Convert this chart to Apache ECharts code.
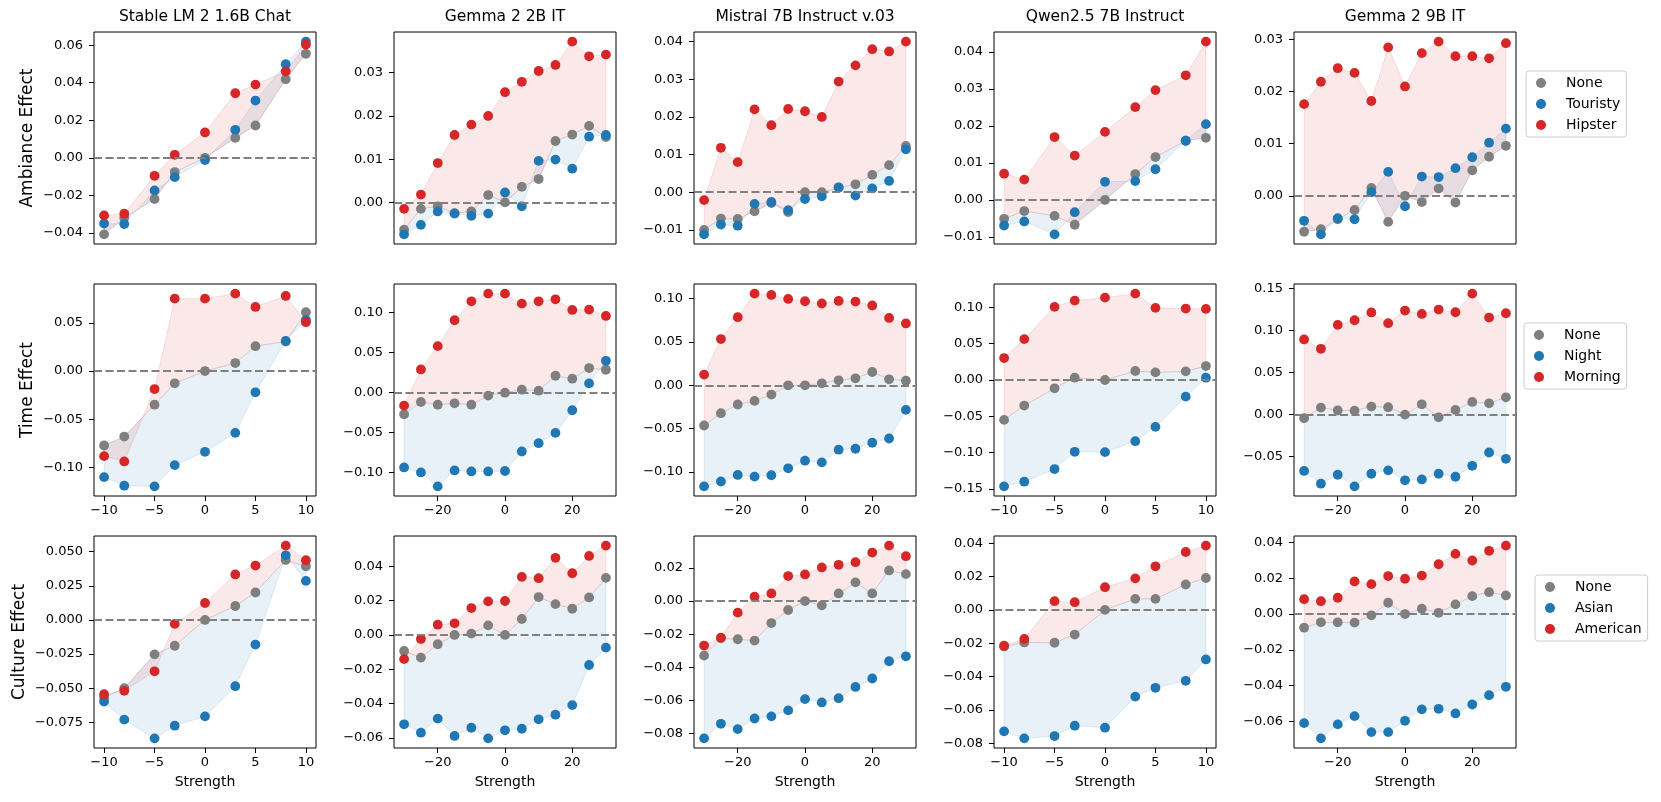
<!DOCTYPE html>
<html><head><meta charset="utf-8">
<script src="https://cdn.jsdelivr.net/npm/echarts@6/dist/echarts.min.js"></script>
<style>html,body{margin:0;padding:0;background:#fff}#c{width:1661px;height:802px}</style>
</head><body><div id="c"></div>
<script>
// ---------- categories / labels ----------
const models = ['Stable LM 2 1.6B Chat','Gemma 2 2B IT','Mistral 7B Instruct v.03','Qwen2.5 7B Instruct','Gemma 2 9B IT'];
const effects = ['Ambiance Effect','Time Effect','Culture Effect'];
const ambianceNames = ['None','Touristy','Hipster'];
const timeNames = ['None','Night','Morning'];
const cultureNames = ['None','Asian','American'];
const strengthSmall = [-10,-8,-5,-3,0,3,5,8,10];
const strengthLarge = [-30,-25,-20,-15,-10,-5,0,5,10,15,20,25,30];
const xTicksSmall = ['−10','−5','0','5','10'];
const xTicksLarge = ['−20','0','20'];
const yTicksAmbiance = [
  ['−0.04','−0.02','0.00','0.02','0.04','0.06'],
  ['0.00','0.01','0.02','0.03'],
  ['−0.01','0.00','0.01','0.02','0.03','0.04'],
  ['−0.01','0.00','0.01','0.02','0.03','0.04'],
  ['0.00','0.01','0.02','0.03']];
const yTicksTime = [
  ['−0.10','−0.05','0.00','0.05'],
  ['−0.10','−0.05','0.00','0.05','0.10'],
  ['−0.10','−0.05','0.00','0.05','0.10'],
  ['−0.15','−0.10','−0.05','0.00','0.05','0.10'],
  ['−0.05','0.00','0.05','0.10','0.15']];
const yTicksCulture = [
  ['−0.075','−0.050','−0.025','0.000','0.025','0.050'],
  ['−0.06','−0.04','−0.02','0.00','0.02','0.04'],
  ['−0.08','−0.06','−0.04','−0.02','0.00','0.02'],
  ['−0.08','−0.06','−0.04','−0.02','0.00','0.02','0.04'],
  ['−0.06','−0.04','−0.02','0.00','0.02','0.04']];

// ---------- Ambiance ----------
const ambStableNone     = [-0.0408,-0.0320,-0.0220,-0.0076,0.0000,0.0106,0.0172,0.0419,0.0554];
const ambStableTouristy = [-0.0350,-0.0353,-0.0174,-0.0103,-0.0012,0.0149,0.0305,0.0499,0.0619];
const ambStableHipster  = [-0.0307,-0.0298,-0.0096,0.0016,0.0135,0.0344,0.0390,0.0461,0.0603];
const ambGemma2None     = [-0.0063,-0.0015,-0.0009,-0.0025,-0.0021,0.0017,0.0000,0.0036,0.0054,0.0142,0.0157,0.0177,0.0151];
const ambGemma2Touristy = [-0.0074,-0.0052,-0.0021,-0.0026,-0.0031,-0.0026,0.0023,-0.0009,0.0096,0.0099,0.0078,0.0152,0.0156];
const ambGemma2Hipster  = [-0.0015,0.0018,0.0091,0.0156,0.0180,0.0200,0.0255,0.0279,0.0304,0.0318,0.0372,0.0338,0.0342];
const ambMistralNone     = [-0.0100,-0.0070,-0.0071,-0.0051,-0.0029,-0.0053,0.0000,0.0000,0.0012,0.0021,0.0046,0.0072,0.0123];
const ambMistralTouristy = [-0.0112,-0.0086,-0.0089,-0.0031,-0.0026,-0.0048,-0.0018,-0.0011,0.0013,-0.0009,0.0010,0.0030,0.0114];
const ambMistralHipster  = [-0.0021,0.0118,0.0080,0.0220,0.0178,0.0221,0.0215,0.0200,0.0294,0.0337,0.0380,0.0374,0.0400];
const ambQwenNone     = [-0.0051,-0.0030,-0.0043,-0.0067,0.0000,0.0070,0.0116,0.0160,0.0168];
const ambQwenTouristy = [-0.0069,-0.0058,-0.0093,-0.0033,0.0049,0.0051,0.0083,0.0160,0.0205];
const ambQwenHipster  = [0.0071,0.0055,0.0170,0.0120,0.0184,0.0251,0.0297,0.0337,0.0428];
const ambGemma9None     = [-0.0069,-0.0064,-0.0045,-0.0027,0.0015,-0.0050,0.0000,-0.0012,0.0014,-0.0013,0.0049,0.0075,0.0096];
const ambGemma9Touristy = [-0.0048,-0.0074,-0.0043,-0.0045,0.0007,0.0046,-0.0020,0.0037,0.0036,0.0053,0.0074,0.0102,0.0129];
const ambGemma9Hipster  = [0.0176,0.0219,0.0245,0.0236,0.0182,0.0285,0.0210,0.0274,0.0296,0.0268,0.0268,0.0264,0.0293];

// ---------- Time ----------
const timeStableNone    = [-0.0771,-0.0678,-0.0348,-0.0127,0.0000,0.0083,0.0258,0.0306,0.0609];
const timeStableNight   = [-0.1098,-0.1187,-0.1194,-0.0974,-0.0836,-0.0640,-0.0220,0.0313,0.0530];
const timeStableMorning = [-0.0881,-0.0936,-0.0186,0.0750,0.0750,0.0802,0.0664,0.0778,0.0506];
const timeGemma2None    = [-0.0270,-0.0116,-0.0150,-0.0133,-0.0150,-0.0037,0.0000,0.0037,0.0025,0.0212,0.0175,0.0308,0.0287];
const timeGemma2Night   = [-0.0935,-0.0998,-0.1172,-0.0973,-0.0985,-0.0985,-0.0980,-0.0736,-0.0632,-0.0503,-0.0220,0.0116,0.0399];
const timeGemma2Morning = [-0.0162,0.0291,0.0582,0.0906,0.1143,0.1239,0.1239,0.1114,0.1143,0.1168,0.1035,0.1039,0.0960];
const timeMistralNone    = [-0.0464,-0.0322,-0.0222,-0.0180,-0.0107,0.0000,0.0000,0.0023,0.0057,0.0080,0.0153,0.0069,0.0053];
const timeMistralNight   = [-0.1166,-0.1110,-0.1034,-0.1054,-0.1038,-0.0958,-0.0870,-0.0889,-0.0743,-0.0732,-0.0663,-0.0614,-0.0284];
const timeMistralMorning = [0.0123,0.0533,0.0785,0.1057,0.1042,0.0996,0.0969,0.0943,0.0973,0.0966,0.0920,0.0777,0.0713];
const timeQwenNone    = [-0.0549,-0.0352,-0.0114,0.0032,0.0000,0.0124,0.0105,0.0119,0.0192];
const timeQwenNight   = [-0.1464,-0.1400,-0.1226,-0.0988,-0.0993,-0.0842,-0.0645,-0.0229,0.0032];
const timeQwenMorning = [0.0302,0.0563,0.1007,0.1093,0.1134,0.1189,0.0993,0.0984,0.0979];
const timeGemma9None    = [-0.0043,0.0083,0.0051,0.0047,0.0095,0.0087,0.0000,0.0122,-0.0032,0.0055,0.0150,0.0134,0.0205];
const timeGemma9Night   = [-0.0669,-0.0820,-0.0714,-0.0852,-0.0702,-0.0662,-0.0780,-0.0770,-0.0702,-0.0738,-0.0608,-0.0450,-0.0525];
const timeGemma9Morning = [0.0892,0.0781,0.1065,0.1120,0.1213,0.1085,0.1235,0.1195,0.1247,0.1215,0.1436,0.1152,0.1203];

// ---------- Culture ----------
const culStableNone     = [-0.0570,-0.0500,-0.0252,-0.0189,0.0000,0.0102,0.0201,0.0439,0.0393];
const culStableAsian    = [-0.0597,-0.0730,-0.0867,-0.0774,-0.0706,-0.0485,-0.0180,0.0473,0.0286];
const culStableAmerican = [-0.0544,-0.0519,-0.0376,-0.0029,0.0124,0.0333,0.0398,0.0544,0.0437];
const culGemma2None     = [-0.0093,-0.0132,-0.0054,0.0000,0.0008,0.0056,0.0000,0.0093,0.0221,0.0180,0.0153,0.0219,0.0333];
const culGemma2Asian    = [-0.0521,-0.0570,-0.0488,-0.0589,-0.0541,-0.0603,-0.0556,-0.0547,-0.0492,-0.0465,-0.0409,-0.0175,-0.0074];
const culGemma2American = [-0.0141,-0.0023,0.0060,0.0068,0.0157,0.0196,0.0198,0.0339,0.0331,0.0450,0.0360,0.0461,0.0521];
const culMistralNone     = [-0.0330,-0.0225,-0.0231,-0.0239,-0.0133,-0.0054,0.0000,-0.0026,0.0046,0.0113,0.0046,0.0185,0.0163];
const culMistralAsian    = [-0.0830,-0.0742,-0.0774,-0.0710,-0.0697,-0.0661,-0.0593,-0.0613,-0.0587,-0.0519,-0.0468,-0.0364,-0.0334];
const culMistralAmerican = [-0.0269,-0.0221,-0.0070,0.0026,0.0046,0.0151,0.0161,0.0203,0.0219,0.0235,0.0293,0.0335,0.0271];
const culQwenNone     = [-0.0219,-0.0195,-0.0197,-0.0148,0.0000,0.0066,0.0066,0.0152,0.0191];
const culQwenAsian    = [-0.0728,-0.0770,-0.0756,-0.0694,-0.0706,-0.0520,-0.0467,-0.0425,-0.0297];
const culQwenAmerican = [-0.0215,-0.0174,0.0052,0.0046,0.0136,0.0189,0.0261,0.0347,0.0385];
const culGemma9None     = [-0.0076,-0.0046,-0.0046,-0.0048,-0.0007,0.0063,0.0000,0.0030,0.0007,0.0054,0.0100,0.0122,0.0104];
const culGemma9Asian    = [-0.0609,-0.0694,-0.0616,-0.0570,-0.0659,-0.0659,-0.0596,-0.0532,-0.0529,-0.0555,-0.0505,-0.0453,-0.0406];
const culGemma9American = [0.0083,0.0072,0.0091,0.0182,0.0167,0.0212,0.0197,0.0215,0.0278,0.0336,0.0299,0.0353,0.0382];

// ---------- assemble ----------
const rowNames = [ambianceNames, timeNames, cultureNames];
const rowTicks = [yTicksAmbiance, yTicksTime, yTicksCulture];
const colX = [strengthSmall, strengthLarge, strengthLarge, strengthSmall, strengthLarge];
const colXTicks = [xTicksSmall, xTicksLarge, xTicksLarge, xTicksSmall, xTicksLarge];
const panelData = [
  [[ambStableNone,ambStableTouristy,ambStableHipster],[ambGemma2None,ambGemma2Touristy,ambGemma2Hipster],[ambMistralNone,ambMistralTouristy,ambMistralHipster],[ambQwenNone,ambQwenTouristy,ambQwenHipster],[ambGemma9None,ambGemma9Touristy,ambGemma9Hipster]],
  [[timeStableNone,timeStableNight,timeStableMorning],[timeGemma2None,timeGemma2Night,timeGemma2Morning],[timeMistralNone,timeMistralNight,timeMistralMorning],[timeQwenNone,timeQwenNight,timeQwenMorning],[timeGemma9None,timeGemma9Night,timeGemma9Morning]],
  [[culStableNone,culStableAsian,culStableAmerican],[culGemma2None,culGemma2Asian,culGemma2American],[culMistralNone,culMistralAsian,culMistralAmerican],[culQwenNone,culQwenAsian,culQwenAmerican],[culGemma9None,culGemma9Asian,culGemma9American]]
];

const FONT = 'DejaVu Sans';
const COLORS = ['#7f7f7f','#1f77b4','#d62728'];
const FILL_RGB = [null,'31,119,180','214,39,40'];
const COLS = [94,394,694,994,1294], ROWS = [32,284,536], W = 222, H = 212;

function padRange(arrs){
  let lo=Infinity, hi=-Infinity;
  arrs.forEach(a=>a.forEach(v=>{ if(v<lo) lo=v; if(v>hi) hi=v; }));
  const m=(hi-lo)*0.05; return [lo-m, hi+m];
}
function tickVals(labels){ return labels.map(s=>parseFloat(s.replace('−','-'))); }
function fmt(labels){
  const vals=tickVals(labels);
  return v=>{ for(let i=0;i<vals.length;i++) if(Math.abs(vals[i]-v)<1e-9) return labels[i]; return ''; };
}

const grids=[], xAxes=[], yAxes=[], series=[], graphics=[];
for(let r=0;r<3;r++){
  for(let c=0;c<5;c++){
    const idx=r*5+c, xs=colX[c], d=panelData[r][c];
    grids.push({left:COLS[c], top:ROWS[r], width:W, height:H, show:true, borderColor:'#000', borderWidth:1, backgroundColor:'rgba(0,0,0,0)'});
    const xr=padRange([xs]), yr=padRange(d);
    const xt=colXTicks[c], yt=rowTicks[r][c];
    xAxes.push({type:'value', gridIndex:idx, min:xr[0], max:xr[1],
      axisLine:{show:false, onZero:false},
      axisTick:{show:r>0, length:5, lineStyle:{color:'#000', width:1}, customValues:tickVals(xt)},
      axisLabel:{show:r>0, customValues:tickVals(xt), formatter:fmt(xt), color:'#000', fontFamily:FONT, fontSize:13, margin:8},
      splitLine:{show:false},
      name: r===2?'Strength':'', nameLocation:'middle', nameGap:27,
      nameTextStyle:{fontFamily:FONT, fontSize:14, color:'#000'}});
    yAxes.push({type:'value', gridIndex:idx, min:yr[0], max:yr[1],
      axisLine:{show:false, onZero:false},
      axisTick:{show:true, length:5, lineStyle:{color:'#000', width:1}, customValues:tickVals(yt)},
      axisLabel:{customValues:tickVals(yt), formatter:fmt(yt), color:'#000', fontFamily:FONT, fontSize:13, margin:11},
      splitLine:{show:false},
      name: c===0?effects[r]:'', nameLocation:'middle', nameRotate:90, nameGap: r===2?66:58,
      nameTextStyle:{fontFamily:FONT, fontSize:17, color:'#000'}});
    // fills between None and each other series
    [1,2].forEach(k=>{
      const base=d[0], other=d[k], rgb=FILL_RGB[k];
      series.push({type:'custom', xAxisIndex:idx, yAxisIndex:idx, z:1, silent:true,
        data: xs.map((x,i)=>[x, base[i], other[i]]),
        encode:{x:0, y:[1,2]},
        renderItem:(params, api)=>{
          if(params.dataIndex!==0) return null;
          const pts=[];
          for(let i=0;i<xs.length;i++) pts.push(api.coord([xs[i], base[i]]));
          for(let i=xs.length-1;i>=0;i--) pts.push(api.coord([xs[i], other[i]]));
          return {type:'polygon', shape:{points:pts}, style:{fill:'rgba('+rgb+',0.1)', stroke:'rgba('+rgb+',0.13)', lineWidth:1}};
        }});
    });
    // scatter points
    for(let k=0;k<3;k++){
      series.push({type:'scatter', name:rowNames[r][k], xAxisIndex:idx, yAxisIndex:idx, z:2, silent:true,
        symbol:'circle', symbolSize:9.8, itemStyle:{color:COLORS[k], opacity:1},
        data: xs.map((x,i)=>[x, d[k][i]])});
    }
    // zero dashed line
    series.push({type:'line', xAxisIndex:idx, yAxisIndex:idx, z:3, silent:true, data:[],
      markLine:{silent:true, symbol:['none','none'], label:{show:false},
        lineStyle:{color:'#808080', width:2.2, type:[8,3.5]}, emphasis:{disabled:true},
        data:[{yAxis:0}]}});
  }
}
// column titles
models.forEach((m,c)=>{
  graphics.push({type:'text', x:COLS[c]+W/2, y:17, style:{text:m, textAlign:'center', textVerticalAlign:'middle', fontFamily:FONT, fontSize:15.5, fill:'#000'}});
});

const LEG_LEFT=[1526,1524,1535], LEG_TOP=[71,323,575];
const legends=[0,1,2].map(r=>({
  data: rowNames[r].map(n=>({name:n, icon:'circle'})),
  orient:'vertical', left:LEG_LEFT[r], top:LEG_TOP[r],
  itemWidth:20, itemHeight:10, itemGap:7, selectedMode:false,
  textStyle:{fontFamily:FONT, fontSize:14, color:'#000', padding:[0,0,0,10], lineHeight:14},
  padding:[5,6,5,10], borderColor:'#cccccc', borderWidth:1, borderRadius:3,
  backgroundColor:'rgba(255,255,255,0.8)'
}));

const chart = echarts.init(document.getElementById('c'), null, {renderer:'canvas'});
chart.setOption({
  animation:false, backgroundColor:'#fff',
  textStyle:{fontFamily:FONT},
  grid:grids, xAxis:xAxes, yAxis:yAxes, series:series, legend:legends, graphic:graphics
});
</script></body></html>
